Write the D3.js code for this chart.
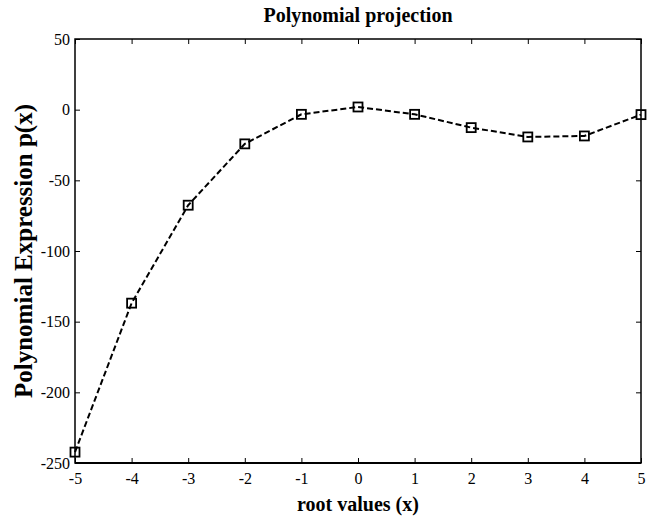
<!DOCTYPE html>
<html>
<head>
<meta charset="utf-8">
<script src="https://cdn.jsdelivr.net/npm/d3@7"></script>
<style>
  body { margin: 0; background: #fff; }
  svg text { font-family: "Liberation Serif", "Times New Roman", serif; fill: #000; }
</style>
</head>
<body>
<svg id="chart" width="659" height="519"></svg>
<script>
// data
const rootValues = [-5, -4, -3, -2, -1, 0, 1, 2, 3, 4, 5];
const polyValues = [-242.3, -136.9, -67.6, -24.2, -3.3, 1.9, -3.3, -12.7, -19.3, -18.6, -3.5];
const xTicks = [-5, -4, -3, -2, -1, 0, 1, 2, 3, 4, 5];
const yTicks = [50, 0, -50, -100, -150, -200, -250];

const titleText = 'Polynomial projection';
const xLabelText = 'root values (x)';
const yLabelText = 'Polynomial Expression p(x)';

const margin = { top: 39, right: 18, bottom: 56, left: 75 };
const width = 659 - margin.left - margin.right;
const height = 519 - margin.top - margin.bottom;

const svg = d3.select('#chart');
const g = svg.append('g').attr('transform', `translate(${margin.left} ${margin.top})`);

const x = d3.scaleLinear().domain([-5, 5]).range([0, width]);
const y = d3.scaleLinear().domain([-250, 50]).range([height, 0]);

// plain hyphen, like the original
const fmt = d => String(d);

// axes: ticks point inward, matlab style
function styleAxis(sel) {
  sel.attr('font-family', '"Liberation Serif", serif').attr('font-size', 16);
  sel.select('.domain').remove();
  sel.selectAll('.tick line').attr('stroke', '#000').attr('stroke-width', 1);
}

g.append('g')
  .attr('transform', `translate(0 ${height})`)
  .call(d3.axisBottom(x).tickValues(xTicks).tickFormat(fmt).tickSizeInner(-5).tickSizeOuter(0).tickPadding(10))
  .call(styleAxis);

g.append('g')
  .call(d3.axisTop(x).tickValues(xTicks).tickSizeInner(-5).tickSizeOuter(0).tickFormat(''))
  .call(styleAxis);

g.append('g')
  .call(d3.axisLeft(y).tickValues(yTicks).tickFormat(fmt).tickSizeInner(-5).tickSizeOuter(0).tickPadding(5))
  .call(styleAxis);

g.append('g')
  .attr('transform', `translate(${width} 0)`)
  .call(d3.axisRight(y).tickValues(yTicks).tickSizeInner(-5).tickSizeOuter(0).tickFormat(''))
  .call(styleAxis);

// box
g.append('rect')
  .attr('width', width).attr('height', height)
  .attr('fill', 'none').attr('stroke', '#000').attr('stroke-width', 1.5);
g.append('line')
  .attr('x1', 0).attr('x2', width).attr('y1', height).attr('y2', height)
  .attr('stroke', '#000').attr('stroke-width', 2);

const pts = rootValues.map((d, i) => [d, polyValues[i]]);

g.append('path')
  .datum(pts)
  .attr('fill', 'none')
  .attr('stroke', '#000')
  .attr('stroke-width', 2)
  .attr('stroke-dasharray', '6,3')
  .attr('d', d3.line().x(d => x(d[0])).y(d => y(d[1])));

const ms = 9;
g.append('g').selectAll('rect')
  .data(pts)
  .join('rect')
    .attr('x', d => x(d[0]) - ms / 2)
    .attr('y', d => y(d[1]) - ms / 2)
    .attr('width', ms).attr('height', ms)
    .attr('fill', 'none')
    .attr('stroke', '#000')
    .attr('stroke-width', 1.8);

// titles
svg.append('text')
  .attr('x', margin.left + width / 2).attr('y', 22)
  .attr('text-anchor', 'middle')
  .attr('font-size', 20).attr('font-weight', 'bold')
  .text(titleText);

svg.append('text')
  .attr('x', margin.left + width / 2).attr('y', 511)
  .attr('text-anchor', 'middle')
  .attr('font-size', 20).attr('font-weight', 'bold')
  .text(xLabelText);

svg.append('text')
  .attr('transform', `translate(32 ${margin.top + height / 2}) rotate(-90)`)
  .attr('text-anchor', 'middle')
  .attr('font-size', 25).attr('font-weight', 'bold')
  .text(yLabelText);
</script>
</body>
</html>
